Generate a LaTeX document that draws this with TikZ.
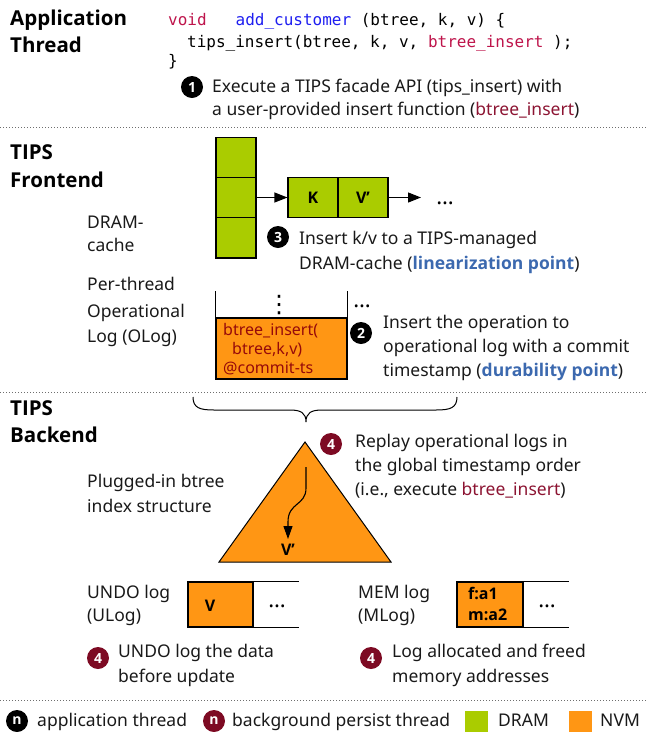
\documentclass[tikz,border=0pt]{standalone}
\usepackage{fontspec}
\setmainfont{Noto Sans}
\setmonofont{DejaVu Sans Mono}
\newfontfamily\bfam{Open Sans}
\newfontfamily\symfam{DejaVu Sans}
\newcommand\hb[1]{{\bfam\bfseries #1}}
\usetikzlibrary{arrows.meta}
\definecolor{dram}{RGB}{170,204,0}
\definecolor{nvm}{RGB}{255,150,20}
\definecolor{crim}{RGB}{190,20,75}
\definecolor{fnred}{RGB}{140,20,50}
\definecolor{boxred}{RGB}{150,10,10}
\definecolor{cblue}{RGB}{30,30,240}
\definecolor{kblue}{RGB}{60,105,175}
\definecolor{circred}{RGB}{125,10,35}
\definecolor{txt}{RGB}{25,25,25}
\definecolor{sepcol}{RGB}{110,110,110}
\begin{document}
\begin{tikzpicture}[x=1pt,y=-1pt,
  lab/.style={anchor=base west, inner sep=0, text=txt, font=\fontsize{17.5}{21}\selectfont},
  head/.style={anchor=base west, inner sep=0, text=black, font=\bfam\bfseries\fontsize{20.5}{25}\selectfont},
  code/.style={anchor=base west, inner sep=0, text=black, font=\ttfamily\fontsize{16}{20}\selectfont},
  boxtxt/.style={anchor=base west, inner sep=0, text=boxred, font=\fontsize{16}{20}\selectfont},
  num/.style={circle, fill=black, text=white, minimum size=22pt, inner sep=0, font=\bfam\bfseries\fontsize{14}{14}\selectfont},
  rnum/.style={num, fill=circred},
  cell/.style={draw=black, line width=1.1pt, fill=dram, minimum width=40pt, minimum height=40.3pt, inner sep=0, font=\bfam\bfseries\fontsize{16}{16}\selectfont},
  obox/.style={draw=black, line width=1.1pt, fill=nvm, inner sep=0},
  btxt/.style={inner sep=0, text=black, font=\bfam\bfseries\fontsize{16}{16}\selectfont},
  arr/.style={line width=1.1pt, -{Triangle[length=13pt,width=10pt]}},
  sepline/.style={draw=sepcol, line width=0.9pt, dash pattern=on 1.2pt off 1.8pt},
  dots/.style={anchor=base, inner sep=0, text=black, font=\fontsize{22}{24}\selectfont},
  legsq/.style={minimum width=23pt, minimum height=23pt, inner sep=0}
]
\useasboundingbox (0,0) rectangle (648,732);

% ---------- Application thread ----------
\node[head] (h1a) at (10,25) {Application};
\node[head] (h1b) at (10,52) {Thread};
\node[code] (c1) at (168,25) {\textcolor{crim}{void}~~~\textcolor{cblue}{add\_customer}~(btree,~k,~v)~\{};
\node[code] (c2) at (187,47) {tips\_insert(btree,~k,~v,~\textcolor{crim}{btree\_insert}~);};
\node[code] (c3) at (168,66) {\}};
\node[num] (n1) at (192,87) {1};
\node[lab] (t1a) at (212,92) {Execute a TIPS facade API (tips\_insert) with};
\node[lab] (t1b) at (212,115) {a user-provided insert function (\textcolor{fnred}{btree\_insert})};

\draw[sepline] (0,127) -- (648,127);

% ---------- Frontend ----------
\node[head] (h2a) at (10,159) {TIPS};
\node[head] (h2b) at (10,187) {Frontend};
\node[lab] (dl1) at (87,228) {DRAM-};
\node[lab] (dl2) at (87,251) {cache};
\node[cell] (d1) at (236,157.2) {};
\node[cell] (d2) at (236,197.5) {};
\node[cell] (d3) at (236,237.8) {};
\node[cell, minimum width=50pt] (k) at (313,197.5) {K};
\node[cell, minimum width=50pt] (v) at (363,197.5) {V’};
\coordinate (kvend) at (421,197.5);
\draw[arr] (d2.east) -- (k.west);
\draw[arr] (v.east) -- (kvend);
\node[dots] (kvdots) at (445,204) {…};
\node[num] (n3) at (278,237) {3};
\node[lab] (t3a) at (299,244) {Insert k/v to a TIPS-managed};
\node[lab] (t3b) at (299,269) {DRAM-cache (\textcolor{kblue}{\hb{linearization point}})};

\node[lab] (ol1) at (87,290) {Per-thread};
\node[lab] (ol2) at (87,317) {Operational};
\node[lab] (ol3) at (87,342) {Log (OLog)};
\node[obox, minimum width=131pt, minimum height=61pt] (ol) at (281.5,348.5) {};
\draw[line width=1.1pt] (ol.north west) -- ++(0,-26);
\draw[line width=1.1pt] (ol.north east) -- ++(0,-26);
\node[inner sep=0, font=\symfam\fontsize{24}{24}\selectfont] (vd) at (279,305) {⋮};
\node[dots] (oldots) at (362,307) {…};
\node[boxtxt] (ob1) at (223,335) {btree\_insert(};
\node[boxtxt] (ob2) at (232,354) {btree,k,v)};
\node[boxtxt] (ob3) at (223,373) {@commit-ts};
\node[num] (n2) at (361,333) {2};
\node[lab] (t2a) at (383,328) {Insert the operation to};
\node[lab] (t2b) at (383,352) {operational log with a commit};
\node[lab] (t2c) at (383,376) {timestamp (\textcolor{kblue}{\hb{durability point}})};

\draw[sepline] (0,392) -- (648,392);

% ---------- Backend ----------
\node[head] (h3a) at (10,415) {TIPS};
\node[head] (h3b) at (10,442) {Backend};
\draw[line width=1pt] (193,397) .. controls (193,408) and (200,410) .. (214,410) -- (290,410)
  .. controls (301,410) and (306,413) .. (306,422)
  .. controls (306,413) and (311,410) .. (322,410) -- (436,410)
  .. controls (450,410) and (457,408) .. (457,397);
\draw[line width=1pt, fill=nvm] (305,442) -- (219,562) -- (391,562) -- cycle;
\coordinate (ta) at (306,467);
\coordinate (tb) at (288,539);
\draw[line width=1.1pt, -{Triangle[length=13pt,width=9pt]}] (ta) -- (306,488) .. controls (306,506) and (288,502) .. (288,522) -- (tb);
\node[btxt, anchor=base] (vp) at (288,555) {V’};
\node[rnum] (n4a) at (331,444) {4};
\node[lab] (t4a) at (355,447) {Replay operational logs in};
\node[lab] (t4b) at (355,471) {the global timestamp order};
\node[lab] (t4c) at (355,495) {(i.e., execute \textcolor{fnred}{btree\_insert})};
\node[lab] (pl1) at (87,487) {Plugged-in btree};
\node[lab] (pl2) at (87,512) {index structure};

\node[lab] (ul1) at (87,598) {UNDO log};
\node[lab] (ul2) at (87,621) {(ULog)};
\node[obox, minimum width=65pt, minimum height=45pt] (ub) at (220.5,604.5) {};
\node[btxt, anchor=base] (ubv) at (210,611) {V};
\draw[line width=1.1pt] (ub.north east) -- ++(45,0);
\draw[line width=1.1pt] (ub.south east) -- ++(45,0);
\node[dots] (udots) at (277,607) {…};

\node[lab] (ml1) at (358,598) {MEM log};
\node[lab] (ml2) at (358,621) {(MLog)};
\node[obox, minimum width=66pt, minimum height=45pt] (mb) at (490,604.5) {};
\node[btxt, anchor=base west] (mb1) at (468,599) {f:a1};
\node[btxt, anchor=base west] (mb2) at (468,620) {m:a2};
\draw[line width=1.1pt] (mb.north east) -- ++(45,0);
\draw[line width=1.1pt] (mb.south east) -- ++(45,0);
\node[dots] (mdots) at (547,607) {…};

\node[rnum] (n4b) at (98,658) {4};
\node[lab] (t5a) at (118,657) {UNDO log the data};
\node[lab] (t5b) at (118,682) {before update};
\node[rnum] (n4c) at (371,658) {4};
\node[lab] (t6a) at (392,657) {Log allocated and freed};
\node[lab] (t6b) at (392,682) {memory addresses};

\draw[sepline] (0,700) -- (648,700);

% ---------- Legend ----------
\node[num] (lg1) at (17,721) {n};
\node[lab] (lg1t) at (37,726) {application thread};
\node[rnum] (lg2) at (214,721) {n};
\node[lab] (lg2t) at (232,726) {background persist thread};
\node[legsq, fill=dram] (lg3) at (476,722) {};
\node[lab] (lg3t) at (498,726) {DRAM};
\node[legsq, fill=nvm] (lg4) at (580,722) {};
\node[lab] (lg4t) at (600,726) {NVM};
\end{tikzpicture}
\end{document}
